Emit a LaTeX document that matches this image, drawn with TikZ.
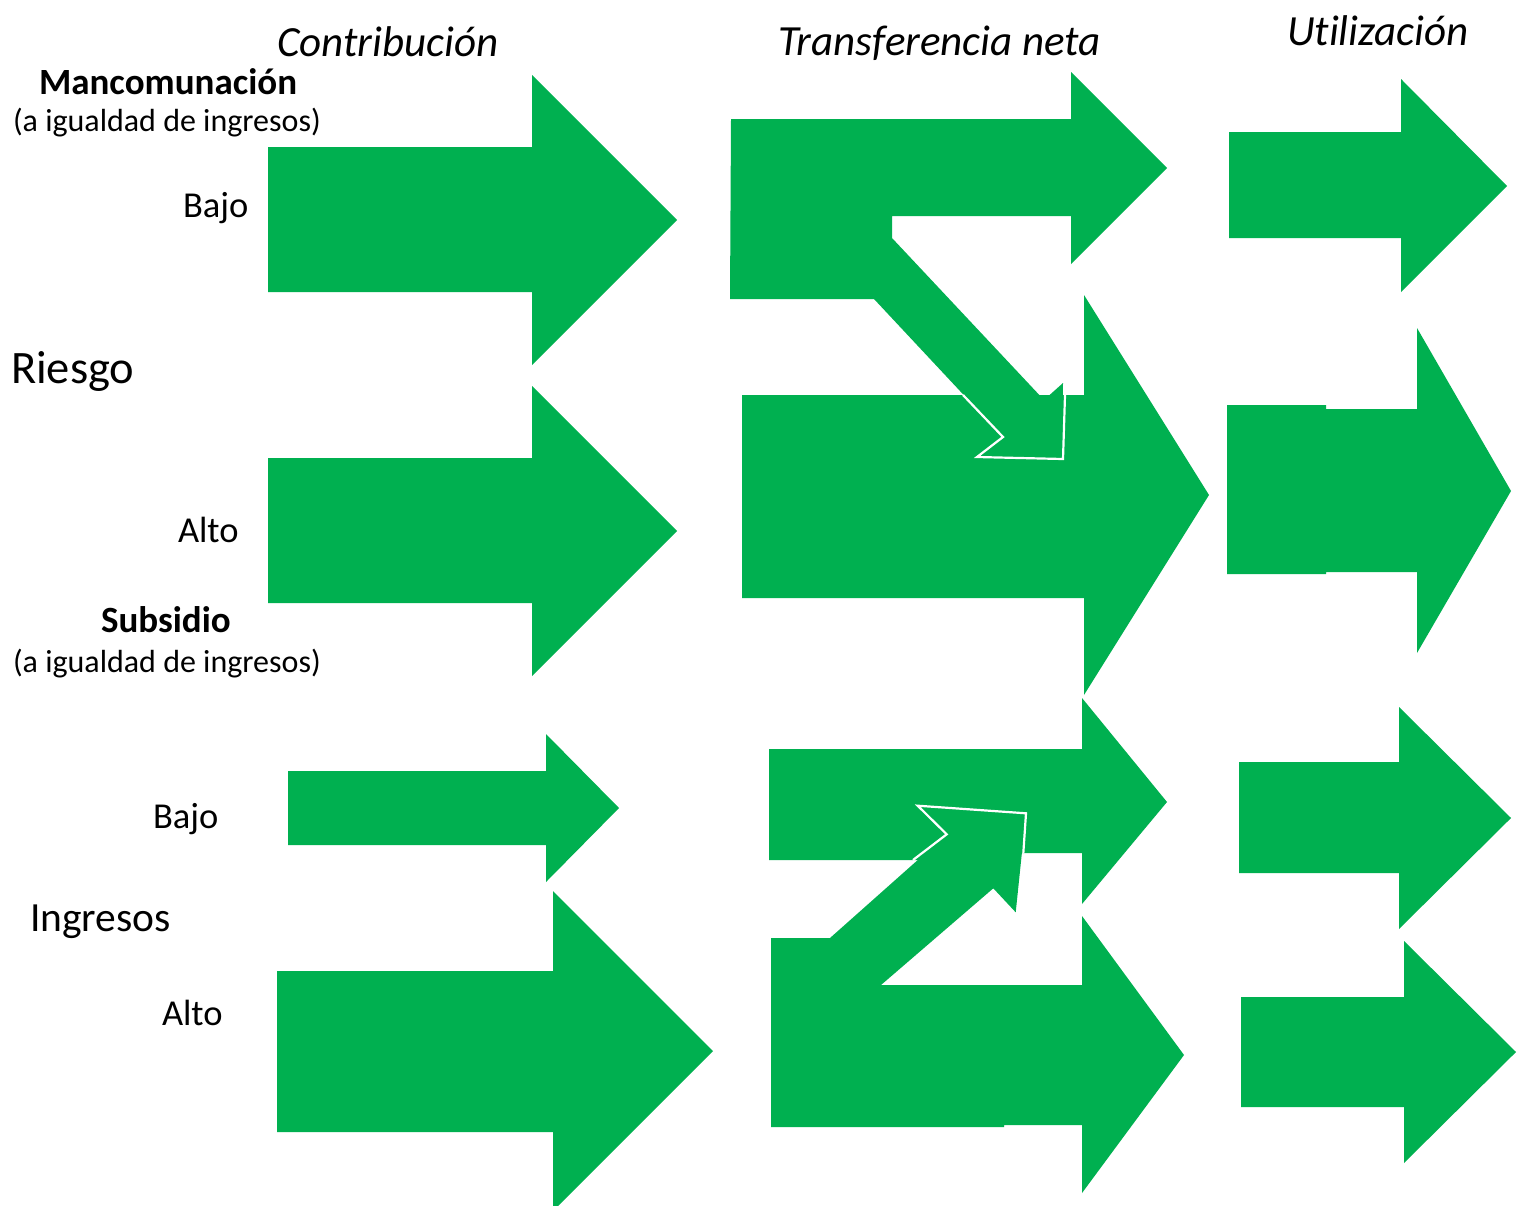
\documentclass[tikz,border=0pt]{standalone}
\usepackage{fontspec}
\setmainfont[Ligatures={NoCommon}]{Carlito}
\definecolor{arrowgreen}{RGB}{0,176,80}
\tikzset{
  garrow/.style={fill=arrowgreen, draw=none},
  outl/.style={draw=white, line width=2.2pt, line join=miter},
  lbl/.style={anchor=base west, inner sep=0pt, outer sep=0pt, text=black},
  hdr/.style={lbl, font=\fontsize{43}{43}\selectfont\itshape},
  grp/.style={lbl, font=\fontsize{37}{37}\selectfont\bfseries},
  sub/.style={lbl, font=\fontsize{32}{32}\selectfont},
  lvl/.style={lbl, font=\fontsize{36.5}{36.5}\selectfont}
}
\begin{document}
\begin{tikzpicture}[x=1pt,y=-1pt]
\useasboundingbox (0,0) rectangle (1525,1205);
\clip (0,0) rectangle (1525,1205);
\fill[white] (0,0) rectangle (1525,1205);

% Contribucion column
\fill[garrow] (268,147) -- (532,147) -- (532,75) -- (677,220) -- (532,365) -- (532,292) -- (268,292) -- cycle;
\fill[garrow] (268,458) -- (532,458) -- (532,386) -- (677,531) -- (532,676) -- (532,603) -- (268,603) -- cycle;
\fill[garrow] (288,771) -- (546,771) -- (546,734) -- (619,808) -- (546,882) -- (546,845) -- (288,845) -- cycle;
\fill[garrow] (277,971) -- (553,971) -- (553,891) -- (713,1051) -- (553,1211) -- (553,1132) -- (277,1132) -- cycle;

% Transferencia neta column - riesgo
\fill[garrow] (742,395) -- (1084,395) -- (1084,295) -- (1209,495) -- (1084,695) -- (1084,598) -- (742,598) -- cycle;
\fill[garrow] (731,119) -- (1071,119) -- (1071,72) -- (1167,168) -- (1071,264) -- (1071,216) -- (892,216) -- (892,238)
  -- (1044,400) -- (1063,383) -- (1062,458) -- (977,457) -- (1003,437) -- (874,299) -- (730,299) -- cycle;
\draw[outl] (963,395) -- (1003,437) -- (977,457) -- (1063,459) -- (1065,395);

% Transferencia neta column - ingresos
\fill[garrow] (769,749) -- (1082,749) -- (1082,698) -- (1167,802) -- (1082,904) -- (1082,853) -- (1000,853) -- (1000,860) -- (769,860) -- cycle;
\fill[garrow] (771,938) -- (830,938) -- (946.7,834.3) -- (917.7,805.7) -- (1026,813.3) -- (1015.7,912.3) -- (993.3,888.3)
  -- (881,985) -- (1082,985) -- (1082,916) -- (1184,1055) -- (1082,1193) -- (1082,1125) -- (1004,1125) -- (1004,1127) -- (771,1127) -- cycle;
\draw[outl] (913,860) -- (946.7,834.3) -- (917.7,805.7) -- (1026,813.3) -- (1023.3,853.3);

% Utilizacion column
\fill[garrow] (1229,132) -- (1401,132) -- (1401,79) -- (1507,186) -- (1401,292) -- (1401,238) -- (1229,238) -- cycle;
\fill[garrow] (1227,405) -- (1326,405) -- (1326,409) -- (1417,409) -- (1417,328) -- (1511,491) -- (1417,653) -- (1417,572) -- (1326,572) -- (1326,574) -- (1227,574) -- cycle;
\fill[garrow] (1239,762) -- (1399,762) -- (1399,707) -- (1511,818) -- (1399,929) -- (1399,873) -- (1239,873) -- cycle;
\fill[garrow] (1241,997) -- (1404,997) -- (1404,941) -- (1516,1052) -- (1404,1163) -- (1404,1107) -- (1241,1107) -- cycle;

% Headers
\node[hdr] (hcontrib) at (277,56) {Contribución};
\node[hdr] (htrans) at (778,55) {Transferencia neta};
\node[hdr] (hutil) at (1287,45) {Utilización};

% Left labels
\node[grp] (manc) at (39,94) {Mancomunación};
\node[sub] (manc2) at (13,131) {(a igualdad de ingresos)};
\node[lvl] (bajo1) at (183,217) {Bajo};
\node[lbl, font=\fontsize{46.5}{46.5}\selectfont] (riesgo) at (11,383) {Riesgo};
\node[lvl] (alto1) at (178,542) {Alto};
\node[grp] (subs) at (101,632) {Subsidio};
\node[sub] (subs2) at (13,672) {(a igualdad de ingresos)};
\node[lvl] (bajo2) at (153,828) {Bajo};
\node[lbl, font=\fontsize{41.5}{41.5}\selectfont] (ingresos) at (30,931) {Ingresos};
\node[lvl] (alto2) at (162,1025) {Alto};
\end{tikzpicture}
\end{document}
